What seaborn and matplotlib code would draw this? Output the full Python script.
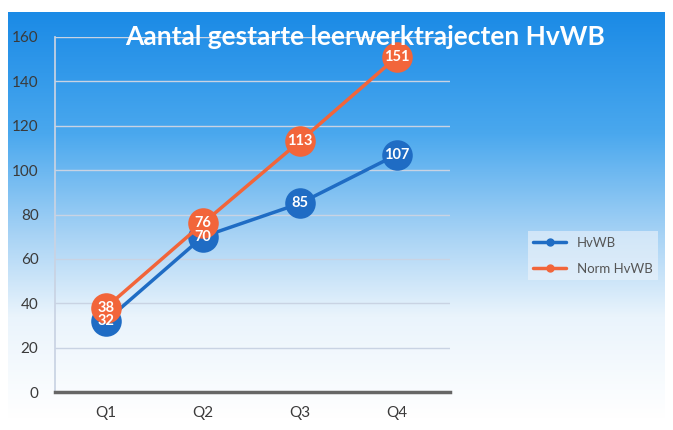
import numpy as np
import pandas as pd
import matplotlib
matplotlib.use("Agg")
import matplotlib.pyplot as plt
from matplotlib.colors import LinearSegmentedColormap
from matplotlib.lines import Line2D
import seaborn as sns

# data
kwartalen = ["Q1", "Q2", "Q3", "Q4"]
hvwb = [32, 70, 85, 107]
norm_hvwb = [38, 76, 113, 151]
reeksen = ["HvWB", "Norm HvWB"]

df = pd.DataFrame({
    "kwartaal": kwartalen * 2,
    "aantal": hvwb + norm_hvwb,
    "reeks": [reeksen[0]] * 4 + [reeksen[1]] * 4,
})

blue = "#1f6cc4"
orange = "#f2653a"
palette = {"HvWB": blue, "Norm HvWB": orange}

sns.set_theme(style="white")
plt.rcParams["font.family"] = ["Lato", "DejaVu Sans"]

fig = plt.figure(figsize=(6.73, 4.30), dpi=100)
fig.patch.set_facecolor("white")

# gradient background (blue top -> white bottom)
bg = fig.add_axes([0.012, 0.025, 0.976, 0.948], zorder=-5)
cmap = LinearSegmentedColormap.from_list(
    "bg", [(0.0, "#1a8ae6"), (0.3, "#4aa8ee"), (0.55, "#a8d3f5"),
           (0.75, "#eaf4fc"), (1.0, "#ffffff")])
grad = np.linspace(0, 1, 256).reshape(-1, 1)
bg.imshow(grad, aspect="auto", cmap=cmap, extent=[0, 1, 0, 1])
bg.axis("off")

ax = fig.add_axes([0.082, 0.088, 0.587, 0.826])
ax.set_facecolor("none")

sns.lineplot(data=df, x="kwartaal", y="aantal", hue="reeks", palette=palette,
             marker="o", markersize=22, linewidth=2.5, markeredgewidth=0,
             ax=ax, legend=False, sort=False)

# data labels inside markers
for reeks, vals in [("HvWB", hvwb), ("Norm HvWB", norm_hvwb)]:
    for i, v in enumerate(vals):
        ax.text(i, v, str(v), color="white", fontsize=10.5, fontweight="bold",
                ha="center", va="center", zorder=10)

ax.set_ylim(0, 160)
ax.set_xlim(-0.52, 3.55)
ax.set_yticks(range(0, 161, 20))
ax.yaxis.grid(True, color="#c9d3e3", linewidth=1)
ax.set_axisbelow(True)
ax.set_xlabel("")
ax.set_ylabel("")
ax.tick_params(axis="both", colors="#3a3a3a", labelsize=11, length=0)
ax.tick_params(axis="y", pad=12)
ax.tick_params(axis="x", pad=10)
for side in ["top", "right"]:
    ax.spines[side].set_visible(False)
ax.spines["left"].set_color("#c9d3e3")
ax.spines["bottom"].set_color("#666666")
ax.spines["bottom"].set_linewidth(2.5)

fig.text(0.543, 0.914, "Aantal gestarte leerwerktrajecten HvWB", color="white",
         fontsize=19, fontweight="bold", ha="center", va="center")

handles = [Line2D([0], [0], color=palette[r], lw=2.5, marker="o", markersize=5)
           for r in reeksen]
leg = fig.legend(handles, reeksen, loc="center left", bbox_to_anchor=(0.775, 0.405),
                 frameon=True, fontsize=9.5, handlelength=2.5, labelspacing=1.1,
                 fancybox=False)
leg.get_frame().set_facecolor("#eef4fb")
leg.get_frame().set_alpha(0.6)
leg.get_frame().set_edgecolor("none")
for t in leg.get_texts():
    t.set_color("#555555")

fig.savefig("out.png", dpi=100)
